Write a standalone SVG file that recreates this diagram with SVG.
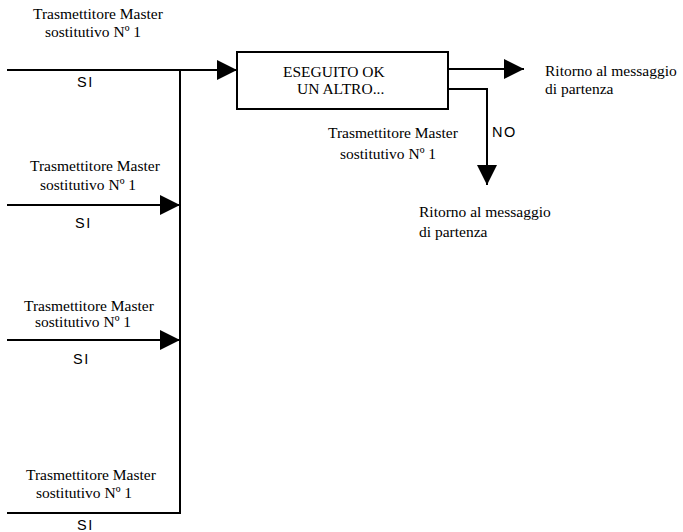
<svg xmlns="http://www.w3.org/2000/svg" width="683" height="532" viewBox="0 0 683 532">
<style>
.serif{font-family:"Liberation Serif","Times New Roman",serif;font-size:15.5px;fill:#000}
.sans{font-family:"Liberation Sans",Arial,sans-serif;font-size:14.5px;letter-spacing:1.5px;fill:#000}
.ln{fill:none;stroke:#000;stroke-width:2}
.box{fill:#fff;stroke:#000;stroke-width:2}
</style>
<defs>
<marker id="ah" markerUnits="userSpaceOnUse" markerWidth="20" markerHeight="20" viewBox="0 0 20 20" refX="20" refY="10" orient="auto">
<path d="M0,0 L20,10 L0,20 z" fill="#000"/>
</marker>
</defs>
<g id="connectors">
<path class="ln" d="M7,70 H237" marker-end="url(#ah)"/>
<path class="ln" d="M180,70 V513 H7"/>
<path class="ln" d="M7,205 H180" marker-end="url(#ah)"/>
<path class="ln" d="M7,340 H180" marker-end="url(#ah)"/>
<path class="ln" d="M448,69 H524" marker-end="url(#ah)"/>
<path class="ln" d="M448,89 H487 V185" marker-end="url(#ah)"/>
</g>
<g id="box">
<rect class="box" x="237" y="52" width="211" height="57"/>
<text class="serif" x="283" y="77">ESEGUITO OK</text>
<text class="serif" x="297" y="94">UN ALTRO...</text>
</g>
<g id="label1">
<text class="serif" x="33" y="19">Trasmettitore Master</text>
<text class="serif" x="45" y="37">sostitutivo Nº 1</text>
<text class="sans" x="77" y="87">SI</text>
</g>
<g id="label2">
<text class="serif" x="30" y="171">Trasmettitore Master</text>
<text class="serif" x="40" y="190">sostitutivo Nº 1</text>
<text class="sans" x="75" y="228">SI</text>
</g>
<g id="label3">
<text class="serif" x="24" y="311">Trasmettitore Master</text>
<text class="serif" x="35" y="327">sostitutivo Nº 1</text>
<text class="sans" x="73" y="364">SI</text>
</g>
<g id="label4">
<text class="serif" x="26" y="480">Trasmettitore Master</text>
<text class="serif" x="36" y="498">sostitutivo Nº 1</text>
<text class="sans" x="77" y="530">SI</text>
</g>
<g id="label5">
<text class="serif" x="328" y="138">Trasmettitore Master</text>
<text class="serif" x="340" y="159">sostitutivo Nº 1</text>
<text class="sans" x="492" y="137">NO</text>
</g>
<g id="ritorno1">
<text class="serif" x="545" y="76">Ritorno al messaggio</text>
<text class="serif" x="545" y="94">di partenza</text>
</g>
<g id="ritorno2">
<text class="serif" x="419" y="217">Ritorno al messaggio</text>
<text class="serif" x="419" y="237">di partenza</text>
</g>
</svg>
